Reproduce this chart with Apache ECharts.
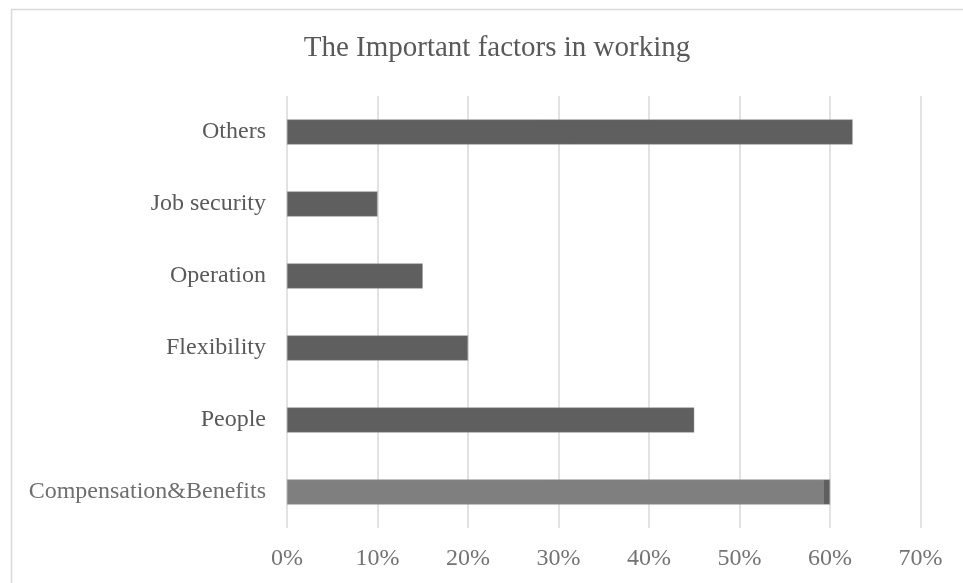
<!DOCTYPE html>
<html>
<head>
<meta charset="utf-8">
<title>The Important factors in working</title>
<script src="https://cdn.jsdelivr.net/npm/echarts@6/dist/echarts.min.js"></script>
<style>
  html, body { margin: 0; padding: 0; background: #ffffff; }
  #chart { width: 963px; height: 583px; }
</style>
</head>
<body>
<div id="chart"></div>
<script>
// Survey categories, listed from bottom to top of the chart
const categories = ['Compensation&Benefits', 'People', 'Flexibility', 'Operation', 'Job security', 'Others'];
// Share of respondents per factor (percent)
const shares = [60, 45, 20, 15, 10, 62.5];
// Value axis ticks (percent)
const tickMin = 0;
const tickMax = 70;
const tickStep = 10;

const FONT = "'Times New Roman', 'Liberation Serif', serif";
const DARK = '#5f5f5f';

const chart = echarts.init(document.getElementById('chart'), null, { renderer: 'canvas' });

const barData = shares.map(function (v, i) {
  if (categories[i] === 'Compensation&Benefits') {
    // the lowest bar sits under a faint pale wash, except its last sliver
    return {
      value: v,
      itemStyle: {
        color: new echarts.graphic.LinearGradient(0, 0, 1, 0, [
          { offset: 0, color: '#7f7f7f' },
          { offset: 0.988, color: '#7f7f7f' },
          { offset: 0.989, color: DARK },
          { offset: 1, color: DARK }
        ])
      }
    };
  }
  return v;
});

chart.setOption({
  backgroundColor: '#ffffff',
  animation: false,
  title: {
    text: 'The Important factors in working',
    left: 492,
    textAlign: 'center',
    top: 29,
    textStyle: { fontFamily: FONT, fontSize: 29, fontWeight: 'normal', color: '#595959' }
  },
  graphic: [{
    type: 'rect',
    shape: { x: 11.5, y: 9.5, width: 980, height: 600 },
    style: { fill: 'none', stroke: '#d9d9d9', lineWidth: 1.5 },
    silent: true,
    z: -1
  }],
  grid: { left: 287, right: 42.5, top: 96, bottom: 55, containLabel: false },
  xAxis: {
    type: 'value',
    min: tickMin,
    max: tickMax,
    interval: tickStep,
    axisLine: { show: false },
    axisTick: { show: false },
    splitLine: { show: true, lineStyle: { color: '#d9d9d9', width: 1.5 } },
    axisLabel: {
      margin: 19,
      fontFamily: FONT,
      fontSize: 24,
      color: '#737373',
      formatter: '{value}%'
    }
  },
  yAxis: {
    type: 'category',
    data: categories,
    axisLine: { show: false },
    axisTick: { show: false },
    axisLabel: {
      margin: 21,
      fontFamily: FONT,
      fontSize: 24,
      color: function (value) {
        return value === 'Compensation&Benefits' ? '#6e6e6e' : '#595959';
      }
    }
  },
  series: [{
    type: 'bar',
    data: barData,
    barCategoryGap: '65%',
    itemStyle: { color: DARK, borderColor: '#9a9a9a', borderWidth: 0.5 }
  }]
});
</script>
</body>
</html>
